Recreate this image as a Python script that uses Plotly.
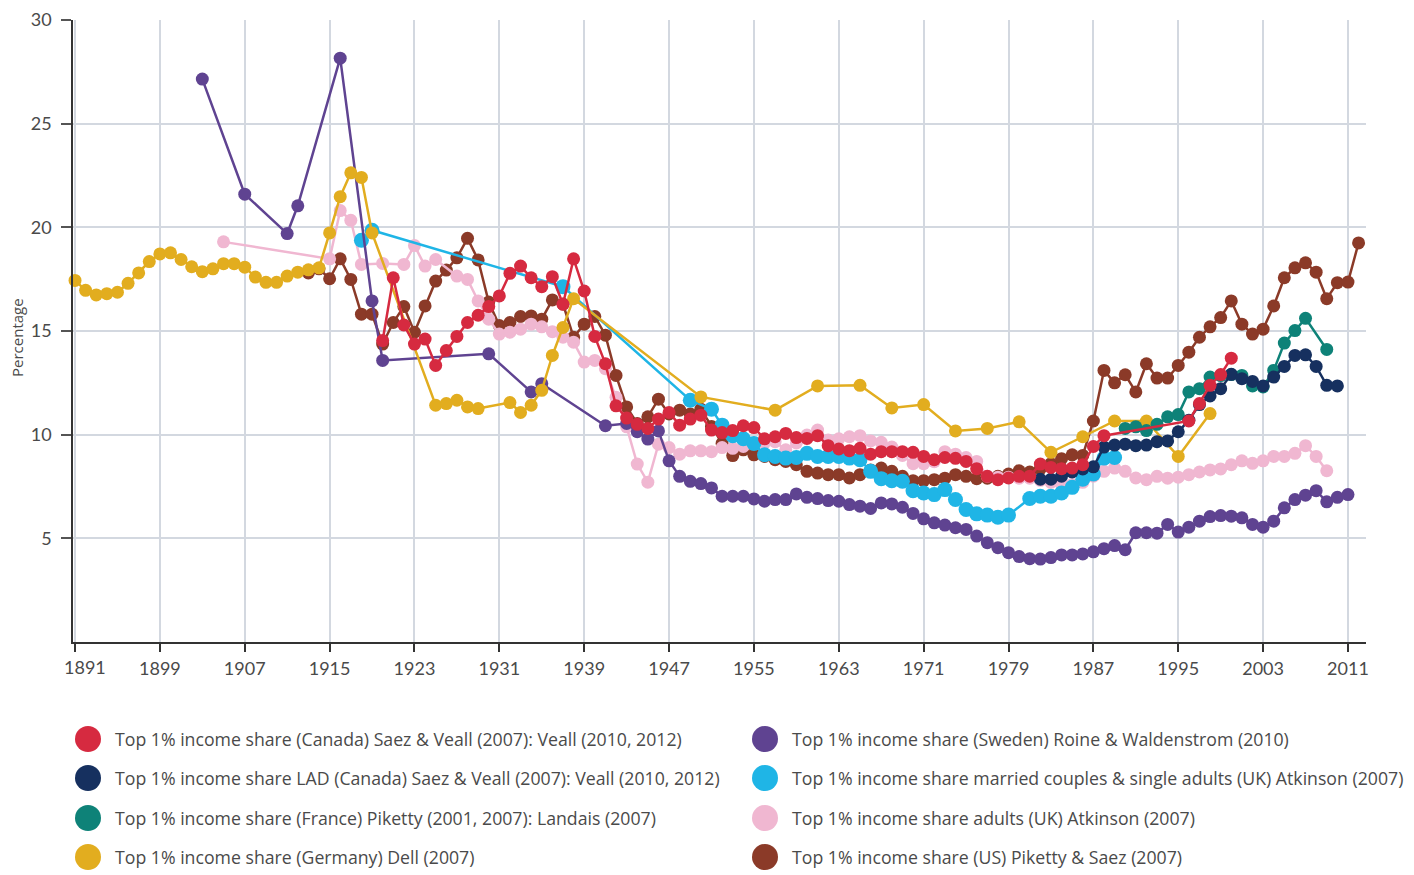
import plotly.graph_objects as go

# ---------------- data ----------------
canada_years = [1920, 1921, 1922, 1923, 1924, 1925, 1926, 1927, 1928, 1929, 1930, 1931, 1932, 1933, 1934, 1935,
                1936, 1937, 1938, 1939, 1940, 1941, 1942, 1943, 1944, 1945, 1946, 1947, 1948, 1949, 1950, 1951,
                1952, 1953, 1954, 1955, 1956, 1957, 1958, 1959, 1960, 1961, 1962, 1963, 1964, 1965, 1966, 1967,
                1968, 1969, 1970, 1971, 1972, 1973, 1974, 1975, 1976, 1977, 1978, 1979, 1980, 1981, 1982, 1983,
                1984, 1985, 1986, 1987, 1988, 1996, 1997, 1998, 1999, 2000]
canada_vals = [14.54, 17.57, 15.29, 14.37, 14.61, 13.34, 14.06, 14.74, 15.41, 15.76, 16.18, 16.69, 17.78, 18.13, 17.57, 17.14,
               17.62, 16.29, 18.48, 16.93, 14.74, 13.42, 11.39, 10.8, 10.5, 10.3, 10.75, 11.07, 10.46, 10.75, 10.94, 10.22,
               10.1, 10.2, 10.43, 10.34, 9.8, 9.9, 10.06, 9.86, 9.82, 9.95, 9.47, 9.31, 9.23, 9.34, 9.06, 9.18,
               9.18, 9.18, 9.15, 8.95, 8.79, 8.9, 8.86, 8.71, 8.36, 7.99, 7.83, 7.91, 7.99, 8.0, 8.58, 8.42,
               8.36, 8.39, 8.55, 9.43, 9.95, 10.66, 11.5, 12.38, 12.9, 13.69]

lad_years = [1982, 1983, 1984, 1985, 1986, 1987, 1988, 1989, 1990, 1991, 1992, 1993, 1994, 1995, 1996, 1997,
             1998, 1999, 2000, 2001, 2002, 2003, 2004, 2005, 2006, 2007, 2008, 2009, 2010]
lad_vals = [7.85, 7.85, 8.0, 8.2, 8.35, 8.45, 9.4, 9.5, 9.54, 9.47, 9.5, 9.66, 9.7, 10.14, 10.7, 11.45,
            11.87, 12.22, 12.91, 12.7, 12.57, 12.35, 12.78, 13.29, 13.82, 13.85, 13.29, 12.38, 12.35]

france_years = [1990, 1991, 1992, 1993, 1994, 1995, 1996, 1997, 1998, 1999, 2000, 2001, 2002, 2003, 2004, 2005,
                2006, 2007, 2009]
france_vals = [10.3, 10.38, 10.2, 10.5, 10.86, 10.97, 12.06, 12.22, 12.78, 12.85, 12.9, 12.86, 12.35, 12.3, 13.1, 14.42,
               15.02, 15.61, 14.11]

germany_years = [1891, 1892, 1893, 1894, 1895, 1896, 1897, 1898, 1899, 1900, 1901, 1902, 1903, 1904, 1905, 1906,
                 1907, 1908, 1909, 1910, 1911, 1912, 1913, 1914, 1915, 1916, 1917, 1918, 1919, 1925, 1926, 1927,
                 1928, 1929, 1932, 1933, 1934, 1935, 1936, 1937, 1938, 1950, 1957, 1961, 1965, 1968, 1971, 1974,
                 1977, 1980, 1983, 1986, 1989, 1992, 1995, 1998]
germany_vals = [17.44, 16.96, 16.74, 16.80, 16.87, 17.3, 17.8, 18.35, 18.72, 18.77, 18.45, 18.1, 17.86, 18.0, 18.25, 18.25,
                18.08, 17.6, 17.35, 17.35, 17.65, 17.84, 17.95, 18.05, 19.73, 21.48, 22.63, 22.41, 19.73, 11.42, 11.5, 11.66,
                11.34, 11.26, 11.55, 11.07, 11.42, 12.14, 13.82, 15.17, 16.56, 11.82, 11.18, 12.35, 12.38, 11.29, 11.45, 10.18,
                10.3, 10.62, 9.15, 9.9, 10.66, 10.66, 8.95, 11.02]

sweden_years = [1903, 1907, 1911, 1912, 1916, 1919, 1920, 1930, 1934, 1935, 1941, 1943, 1944, 1945, 1946, 1947,
                1948, 1949, 1950, 1951, 1952, 1953, 1954, 1955, 1956, 1957, 1958, 1959, 1960, 1961, 1962, 1963,
                1964, 1965, 1966, 1967, 1968, 1969, 1970, 1971, 1972, 1973, 1974, 1975, 1976, 1977, 1978, 1979,
                1980, 1981, 1982, 1983, 1984, 1985, 1986, 1987, 1988, 1989, 1990, 1991, 1992, 1993, 1994, 1995,
                1996, 1997, 1998, 1999, 2000, 2001, 2002, 2003, 2004, 2005, 2006, 2007, 2008, 2009, 2010, 2011]
sweden_vals = [27.15, 21.6, 19.7, 21.04, 28.16, 16.45, 13.58, 13.9, 12.06, 12.46, 10.43, 10.54, 10.14, 9.79, 10.18, 8.74,
               7.99, 7.75, 7.64, 7.43, 7.03, 7.03, 7.03, 6.9, 6.79, 6.87, 6.87, 7.14, 6.98, 6.92, 6.82, 6.79,
               6.63, 6.55, 6.44, 6.71, 6.66, 6.5, 6.2, 5.94, 5.75, 5.64, 5.51, 5.43, 5.11, 4.79, 4.55, 4.31,
               4.12, 4.02, 4.0, 4.07, 4.2, 4.2, 4.25, 4.35, 4.5, 4.65, 4.45, 5.27, 5.27, 5.25, 5.67, 5.3,
               5.54, 5.83, 6.05, 6.1, 6.07, 5.99, 5.67, 5.54, 5.83, 6.47, 6.87, 7.08, 7.3, 6.76, 6.98, 7.11]

ukmc_years = [1918, 1919, 1937, 1949, 1951, 1952, 1953, 1954, 1955, 1956, 1957, 1958, 1959, 1960, 1961, 1962,
              1963, 1964, 1965, 1966, 1967, 1968, 1969, 1970, 1971, 1972, 1973, 1974, 1975, 1976, 1977, 1978,
              1979, 1981, 1982, 1983, 1984, 1985, 1986, 1987, 1988, 1989]
ukmc_vals = [19.38, 19.86, 17.14, 11.66, 11.23, 10.46, 9.95, 9.8, 9.58, 9.03, 8.95, 8.87, 8.9, 9.1, 8.95, 8.95,
             8.95, 8.87, 8.79, 8.23, 7.88, 7.78, 7.75, 7.3, 7.19, 7.11, 7.35, 6.87, 6.39, 6.18, 6.12, 6.02,
             6.12, 6.92, 7.03, 7.03, 7.19, 7.46, 7.85, 8.1, 8.87, 8.9]

ukad_years = [1905, 1915, 1916, 1917, 1918, 1920, 1922, 1923, 1924, 1925, 1927, 1928, 1929, 1930, 1931, 1932,
              1933, 1934, 1935, 1936, 1937, 1938, 1939, 1940, 1941, 1942, 1943, 1944, 1945, 1946, 1947, 1948,
              1949, 1950, 1951, 1952, 1953, 1954, 1955, 1956, 1957, 1958, 1959, 1960, 1961, 1962, 1963, 1964,
              1965, 1966, 1967, 1968, 1969, 1970, 1971, 1972, 1973, 1974, 1975, 1976, 1977, 1978, 1979, 1980,
              1981, 1982, 1983, 1984, 1985, 1986, 1987, 1988, 1989, 1990, 1991, 1992, 1993, 1994, 1995, 1996,
              1997, 1998, 1999, 2000, 2001, 2002, 2003, 2004, 2005, 2006, 2007, 2008, 2009]
ukad_vals = [19.3, 18.48, 20.81, 20.34, 18.21, 18.26, 18.21, 19.12, 18.13, 18.45, 17.65, 17.49, 16.45, 15.57, 14.85, 14.94,
             15.09, 15.33, 15.2, 14.97, 14.7, 14.46, 13.5, 13.58, 13.18, 11.8, 10.38, 8.58, 7.71, 9.54, 9.38, 9.06,
             9.22, 9.22, 9.18, 9.38, 9.34, 9.43, 9.6, 9.6, 9.66, 9.27, 9.6, 9.98, 10.22, 9.74, 9.8, 9.9,
             9.95, 9.7, 9.63, 9.4, 9.0, 8.6, 8.6, 8.7, 9.18, 9.06, 8.9, 8.71, 8.0, 7.95, 7.95, 7.9,
             7.9, 7.8, 7.7, 7.6, 7.6, 7.7, 8.0, 8.23, 8.39, 8.23, 7.91, 7.83, 7.99, 7.9, 7.95, 8.07,
             8.2, 8.3, 8.35, 8.55, 8.74, 8.62, 8.74, 8.95, 8.95, 9.1, 9.47, 8.95, 8.26]

us_years = list(range(1913, 2013))
us_vals = [17.8, 18.0, 17.52, 18.48, 17.49, 15.81, 15.81, 14.37, 15.41, 16.18, 14.94, 16.21, 17.41, 17.94, 18.53, 19.47,
           18.43, 16.4, 15.26, 15.41, 15.70, 15.73, 15.57, 16.5, 16.3, 14.7, 15.33, 15.7, 14.8, 12.86, 11.34, 10.54,
           10.86, 11.71, 11.0, 11.18, 11.0, 11.23, 10.4, 9.58, 8.99, 9.27, 9.03, 8.95, 8.79, 8.71, 8.55, 8.23,
           8.15, 8.07, 8.07, 7.91, 8.07, 8.3, 8.39, 8.23, 7.99, 7.78, 7.78, 7.83, 7.9, 8.07, 7.99, 7.88,
           7.9, 7.99, 8.1, 8.26, 8.2, 8.36, 8.6, 8.84, 9.03, 9.0, 10.66, 13.1, 12.5, 12.89, 12.06, 13.42,
           12.73, 12.73, 13.34, 13.98, 14.7, 15.2, 15.65, 16.45, 15.33, 14.85, 15.09, 16.21, 17.57, 18.05, 18.29, 17.84,
           16.56, 17.33, 17.36, 19.25]

series_names = [
    "Top 1% income share (Canada) Saez & Veall (2007): Veall (2010, 2012)",
    "Top 1% income share LAD (Canada) Saez & Veall (2007): Veall (2010, 2012)",
    "Top 1% income share (France) Piketty (2001, 2007): Landais (2007)",
    "Top 1% income share (Germany) Dell (2007)",
    "Top 1% income share (Sweden) Roine & Waldenstrom (2010)",
    "Top 1% income share married couples & single adults (UK) Atkinson (2007)",
    "Top 1% income share adults (UK) Atkinson (2007)",
    "Top 1% income share (US) Piketty & Saez (2007)",
]
series_colors = ["#d62a40", "#16305f", "#0e8278", "#e2ad1f", "#5f4391", "#1fb5e6", "#f0b7d1", "#8b3a28"]
series_data = [
    (canada_years, canada_vals), (lad_years, lad_vals), (france_years, france_vals),
    (germany_years, germany_vals), (sweden_years, sweden_vals), (ukmc_years, ukmc_vals),
    (ukad_years, ukad_vals), (us_years, us_vals),
]
x_ticks = list(range(1891, 2012, 8))
y_ticks = [5, 10, 15, 20, 25, 30]

# ---------------- figure ----------------
fig = go.Figure()
draw_order = [7, 6, 5, 4, 3, 2, 1, 0]
for i in draw_order:
    xs, ys = series_data[i]
    size = 15 if i == 5 else 13
    fig.add_trace(go.Scatter(
        x=xs, y=ys, mode="lines+markers", name=series_names[i],
        line=dict(color=series_colors[i], width=2.5),
        marker=dict(color=series_colors[i], size=size, line=dict(width=0)),
        showlegend=False, cliponaxis=False,
    ))

TEXT = "#4a4a4a"
TICKFONT = "Lato"
LEGFONT = "Open Sans"
# page body has an 8px default margin, so the figure is sized to fit inside the window
W, H = 1406, 867
ML, MR, MT, MB = 65, 48, 12, 233
pw, ph = W - ML - MR, H - MT - MB

fig.update_layout(
    width=W, height=H,
    margin=dict(l=ML, r=MR, t=MT, b=MB, autoexpand=False),
    paper_bgcolor="white", plot_bgcolor="white",
    font=dict(family=TICKFONT, size=17, color=TEXT),
    showlegend=False,
)
fig.update_xaxes(
    range=[1890.81, 2012.7], tickmode="array", tickvals=x_ticks,
    ticktext=[""] + [str(v) for v in x_ticks[1:]],
    showgrid=True, gridcolor="#d3d8e0", gridwidth=1.5,
    showline=True, linecolor="#333333", linewidth=1.5,
    ticks="outside", ticklen=8, tickcolor="#333333", tickwidth=1.5,
    ticklabelstandoff=2, automargin=False, ticklabeloverflow="allow",
    tickfont=dict(family=TICKFONT, size=18, color=TEXT), zeroline=False,
)
fig.update_yaxes(
    range=[0, 30.001], tickmode="array", tickvals=y_ticks,
    showgrid=True, gridcolor="#d3d8e0", gridwidth=1.5,
    showline=True, linecolor="#333333", linewidth=1.5,
    ticks="outside", ticklen=10, tickcolor="#555555", tickwidth=1.5,
    ticklabelstandoff=6, automargin=False, ticklabeloverflow="allow",
    tickfont=dict(family=TICKFONT, size=18, color=TEXT), zeroline=False,
)

# y axis title
fig.add_annotation(x=(9 - ML) / pw, y=(MT + ph - 330) / ph, xref="paper", yref="paper",
                   text="Percentage", textangle=-90, showarrow=False,
                   xanchor="center", yanchor="middle",
                   font=dict(family=LEGFONT, size=15, color=TEXT))

# first x label nudged right as in the original
fig.add_annotation(x=x_ticks[0], y=0, xref="x", yref="paper", text=str(x_ticks[0]),
                   showarrow=False, xshift=10, yshift=-25, yanchor="middle",
                   font=dict(family=TICKFONT, size=18, color=TEXT))

# manual legend: two columns, four rows
col_px = [80, 757]
row_px = [731, 770, 810, 849]
for k in range(8):
    col, row = k // 4, k % 4
    px, py = col_px[col], row_px[row]
    xp = (px - ML) / pw
    yp = (MT + ph - py) / ph
    fig.add_shape(type="circle", xref="paper", yref="paper", xsizemode="pixel", ysizemode="pixel",
                  xanchor=xp, yanchor=yp, x0=-13, x1=13, y0=-13, y1=13,
                  fillcolor=series_colors[k], line=dict(width=0))
    fig.add_annotation(x=(px + 25 - ML) / pw, y=yp, xref="paper", yref="paper", text=series_names[k],
                       showarrow=False, xanchor="left", yanchor="middle",
                       font=dict(family=LEGFONT, size=17.7, color=TEXT))

fig.write_html("out.html")
